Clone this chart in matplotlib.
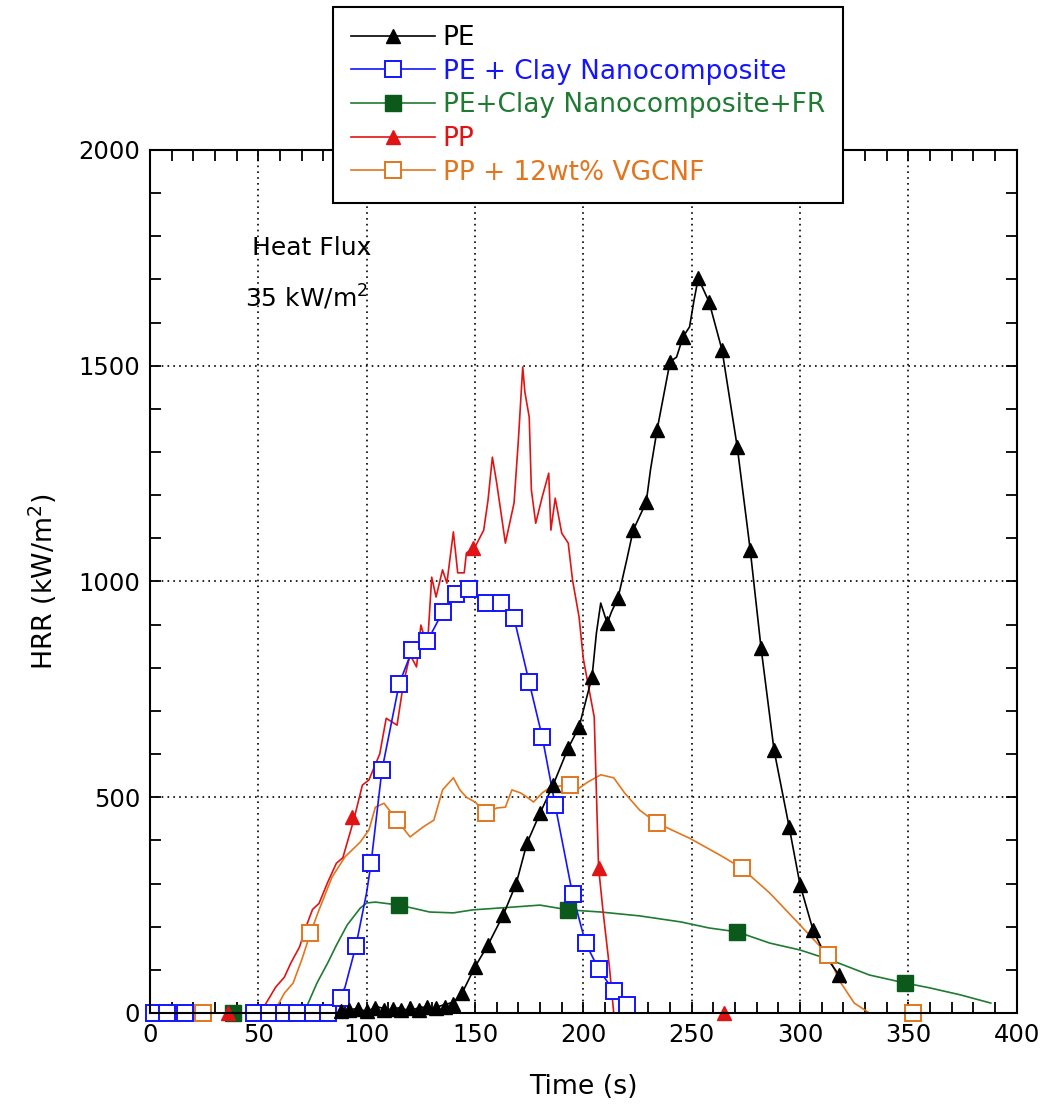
import numpy as np
import matplotlib
matplotlib.use("Agg")
import matplotlib.pyplot as plt

plt.rcParams['font.family'] = ['DejaVu Sans']

# ---------------------------
# data
# ---------------------------
# PE (black, triangles)
pe_t = [88, 90, 95, 100, 105, 110, 115, 120, 125, 130, 135, 140, 144, 150, 156, 163, 169,
        174, 180, 186, 193, 198, 204, 206, 208, 211, 213, 216, 220, 223, 229, 231, 234, 240,
        243, 246, 249, 251, 253, 258, 264, 271, 277, 282, 288, 295, 300, 306, 312, 318, 321]
pe_y = [0, 5, 10, 4, 14, 8, 12, 5, 14, 10, 18, 25, 46, 107, 158, 227, 300,
        394, 463, 528, 614, 663, 779, 880, 950, 903, 930, 962, 1050, 1119, 1184, 1260, 1351, 1509,
        1520, 1567, 1590, 1650, 1703, 1648, 1536, 1312, 1073, 846, 609, 430, 297, 192, 130, 88, 70]
pe_mt = [88, 92, 96, 100, 104, 108, 112, 116, 120, 124, 128, 132, 136, 140, 144, 150, 156,
         163, 169, 174, 180, 186, 193, 198, 204, 211, 216, 223, 229, 234, 240, 246, 253, 258,
         264, 271, 277, 282, 288, 295, 300, 306, 318]
pe_my = [5, 8, 10, 5, 12, 8, 10, 6, 12, 8, 14, 12, 15, 20, 46, 107, 158,
         227, 300, 394, 463, 528, 614, 663, 779, 903, 962, 1119, 1184, 1351, 1509, 1567, 1703, 1648,
         1536, 1312, 1073, 846, 609, 430, 297, 192, 88]

# PE + Clay Nanocomposite (blue, open squares)
cl_t = [0, 80, 86, 90, 95, 100, 102, 107, 115, 121, 128, 135, 141, 147, 155, 162, 168,
        175, 181, 187, 195, 201, 207, 214, 220, 224, 240]
cl_y = [0, 0, 20, 60, 155, 280, 347, 562, 763, 841, 862, 929, 972, 982, 951, 951, 915,
        766, 640, 481, 275, 162, 102, 51, 19, 0, 0]
cl_mt = [2, 8, 16, 48, 55, 62, 68, 75, 82, 88, 95, 102, 107, 115, 121, 128, 135, 141, 147,
         155, 162, 168, 175, 181, 187, 195, 201, 207, 214, 220]
cl_my = [0, 0, 0, 0, 0, 0, 0, 0, 0, 35, 155, 347, 562, 763, 841, 862, 929, 972, 982,
         951, 951, 915, 766, 640, 481, 275, 162, 102, 51, 19]

# PE+Clay Nanocomposite+FR (green, filled squares)
fr_t = [0, 71, 77, 82, 86, 91, 97, 100, 104, 115, 123, 129, 140, 149, 169, 180, 193, 208,
        226, 245, 258, 271, 286, 300, 314, 332, 348, 360, 374, 388]
fr_y = [0, 0, 69, 116, 157, 204, 243, 255, 257, 250, 241, 234, 232, 239, 246, 250, 239, 234,
        225, 211, 197, 188, 162, 146, 123, 88, 70, 58, 42, 23]
fr_mt = [38.5, 115, 193, 271, 348.5]
fr_my = [0, 250, 239, 188, 70]

# PP (red, triangles)
pp_t = [0, 52, 53, 58, 62, 65, 69, 72, 75, 78, 82, 86, 89, 94, 98, 101, 106, 109, 114, 117,
        120, 123, 125, 128, 130, 132, 135, 137, 140, 142, 145, 146, 150, 154, 156, 158, 160,
        164, 168, 170, 172, 173, 175, 176, 178, 181, 184, 185, 187, 190, 193, 195, 198, 200,
        205, 207, 209, 212, 214, 290]
pp_y = [0, 0, 18, 60, 83, 116, 153, 200, 240, 254, 303, 347, 360, 447, 528, 540, 600, 683,
        667, 765, 830, 802, 899, 848, 1010, 964, 1027, 996, 1115, 1020, 1020, 1066, 1080, 1119,
        1189, 1288, 1228, 1089, 1182, 1328, 1497, 1439, 1381, 1212, 1135, 1196, 1251, 1119, 1193,
        1112, 1089, 1003, 918, 820, 686, 338, 239, 107, 0, 0]
pp_mt = [36, 93, 149, 207, 265]
pp_my = [0, 455, 1078, 336, 0]

# PP + 12wt% VGCNF (orange, open squares)
vg_t = [0, 57, 62, 66, 70, 74, 78, 84, 90, 97, 101, 104, 108, 114, 120, 126, 131, 135, 140,
        143, 146, 150, 155, 160, 164, 167, 171, 174, 177, 181, 185, 194, 198, 202, 208, 214,
        219, 226, 234, 249, 263, 273, 286, 300, 313, 318, 325, 332, 377]
vg_y = [0, 0, 46, 69, 123, 185, 239, 315, 362, 396, 424, 477, 486, 447, 408, 431, 447, 517,
        545, 517, 500, 489, 463, 475, 477, 517, 510, 500, 489, 510, 524, 528, 521, 535, 552, 545,
        510, 470, 440, 405, 366, 336, 278, 204, 134, 76, 23, 0, 0]
vg_mt = [24.5, 74, 114, 155, 194, 234, 273, 313, 352]
vg_my = [0, 185, 447, 463, 528, 440, 336, 134, 0]

labels = ["PE", "PE + Clay Nanocomposite", "PE+Clay Nanocomposite+FR", "PP", "PP + 12wt% VGCNF"]
c_black = "black"
c_blue = "#1414ff"
c_green = "#1f7a32"
c_green_m = "#0b5a1c"
c_red = "#e01414"
c_orange = "#e2761e"

fig = plt.figure(figsize=(10.47, 11.06), dpi=100)
ax = fig.add_axes([0.1433, 0.0841, 0.8278, 0.7803])

lw = 1.2
ax.plot(vg_t, vg_y, color=c_orange, lw=lw)
ax.plot(fr_t, fr_y, color=c_green, lw=lw)
ax.plot(pp_t, pp_y, color=c_red, lw=lw)
ax.plot(cl_t, cl_y, color=c_blue, lw=lw)
ax.plot(pe_t, pe_y, color=c_black, lw=lw)

ax.plot(vg_mt, vg_my, ls="none", marker="s", ms=11, mfc="white", mec=c_orange, mew=1.4, clip_on=False, zorder=3)
ax.plot(fr_mt, fr_my, ls="none", marker="s", ms=11, mfc=c_green_m, mec=c_green_m, clip_on=False, zorder=3)
ax.plot(pp_mt, pp_my, ls="none", marker="^", ms=10, mfc=c_red, mec=c_red, clip_on=False, zorder=3)
ax.plot(cl_mt, cl_my, ls="none", marker="s", ms=11, mfc="white", mec=c_blue, mew=1.4, clip_on=False, zorder=3)
ax.plot(pe_mt, pe_my, ls="none", marker="^", ms=10, mfc=c_black, mec=c_black, clip_on=False, zorder=3)

# legend handles (line + one marker)
h_pe, = ax.plot([], [], color=c_black, lw=lw, marker="^", ms=10)
h_cl, = ax.plot([], [], color=c_blue, lw=lw, marker="s", ms=11, mfc="white", mew=1.4)
h_fr, = ax.plot([], [], color=c_green, lw=lw, marker="s", ms=11, mfc=c_green_m, mec=c_green_m)
h_pp, = ax.plot([], [], color=c_red, lw=lw, marker="^", ms=10)
h_vg, = ax.plot([], [], color=c_orange, lw=lw, marker="s", ms=11, mfc="white", mew=1.4)

ax.set_xlim(0, 400)
ax.set_ylim(0, 2000)
ax.set_xticks(np.arange(0, 401, 50))
ax.set_yticks(np.arange(0, 2001, 500))
ax.set_xticks(np.arange(0, 401, 10), minor=True)
ax.set_yticks(np.arange(0, 2001, 100), minor=True)
ax.tick_params(which="both", direction="in", top=True, right=True, width=1.3)
ax.tick_params(which="major", length=8, labelsize=17.5, pad=7)
ax.tick_params(which="minor", length=8)
ax.grid(True, which="major", color="black", ls=(0, (1, 2.5)), lw=1.2)
for s in ax.spines.values():
    s.set_linewidth(1.5)
    s.set_zorder(4)

ax.set_xlabel("Time (s)", fontsize=19.3, labelpad=20)
ax.set_ylabel("HRR (kW/m$^2$)", fontsize=19.3, labelpad=14)

ax.text(47, 1757, "Heat Flux", fontsize=18, ha="left", va="baseline")
ax.text(44, 1636, "35 kW/m$^2$", fontsize=18, ha="left", va="baseline")

leg = fig.legend([h_pe, h_cl, h_fr, h_pp, h_vg], labels, loc="upper left",
                 bbox_to_anchor=(333 / 1047, 1 - 7 / 1106), borderaxespad=0,
                 fontsize=19, labelcolor="linecolor", frameon=True, fancybox=False,
                 edgecolor="black", framealpha=1, handlelength=3.18,
                 handletextpad=0.3, labelspacing=0.29, borderpad=0.68)
leg.get_frame().set_linewidth(1.5)
leg.set_zorder(10)

fig.savefig("out.png", dpi=100)
